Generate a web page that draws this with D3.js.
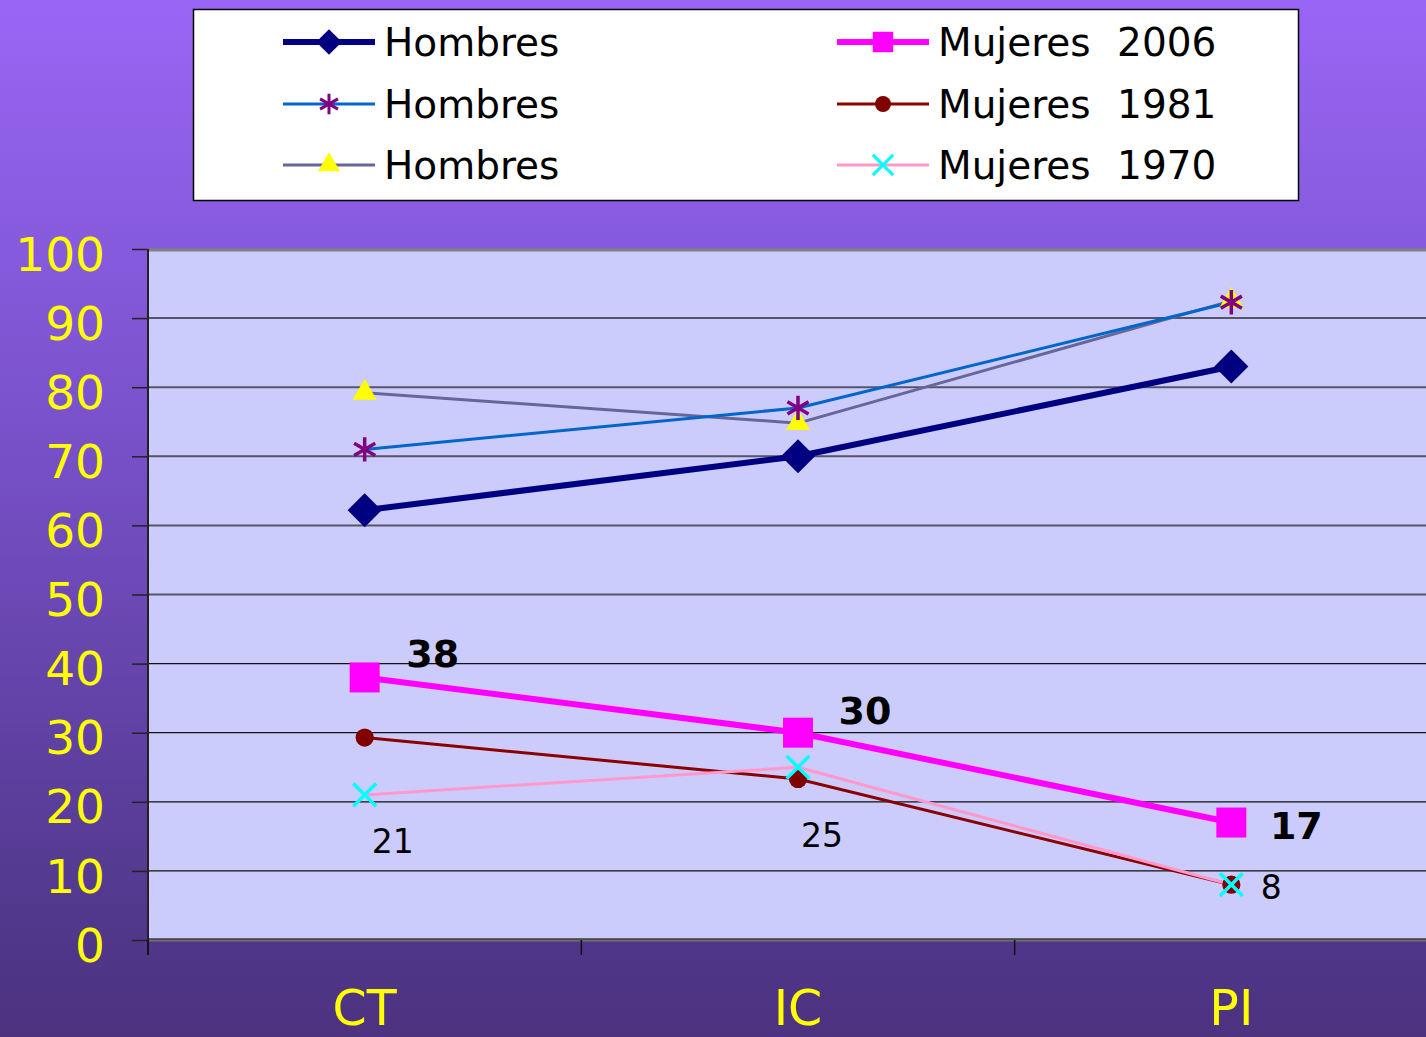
<!DOCTYPE html>
<html>
<head>
<meta charset="utf-8">
<script src="https://cdn.jsdelivr.net/npm/d3@7"></script>
<style>
  body{margin:0;padding:0;overflow:hidden;}
  svg{display:block;}
  text{font-family:"DejaVu Sans",Verdana,sans-serif;}
</style>
</head>
<body>
<svg id="chart" width="1426" height="1037"></svg>
<script>
// categories and values
const categories=["CT","IC","PI"];
const yTicks=[0,10,20,30,40,50,60,70,80,90,100];
const seriesNames=["Hombres","Hombres","Hombres","Mujeres 2006","Mujeres 1981","Mujeres 1970"];
const hombresA=[62.2,70,83];
const hombresB=[71,77,92.3];
const hombresC=[79.2,74.8,92.5];
const mujeres2006=[38,30,17];
const mujeres1981=[29.3,23.3,8];
const mujeres1970=[21,25,8];
const labels2006=["38","30","17"];
const labels1970=["21","25","8"];

const W=1426,H=1037;
const plotL=148,plotT=249,plotB=940,plotR=1448;

const svg=d3.select('#chart');

// background gradient
const defs=svg.append('defs');
const grad=defs.append('linearGradient').attr('id','bg').attr('x1',0).attr('y1',0).attr('x2',0).attr('y2',1);
grad.append('stop').attr('offset','0%').attr('stop-color','#9966f5');
grad.append('stop').attr('offset','40%').attr('stop-color','#7a52cc');
grad.append('stop').attr('offset','90%').attr('stop-color','#50378a');
grad.append('stop').attr('offset','100%').attr('stop-color','#4c327f');
svg.append('rect').attr('width',W).attr('height',H).attr('fill','url(#bg)');

const x=d3.scaleBand().domain(categories).range([plotL,plotR]);
const cx=c=>x(c)+x.bandwidth()/2;
const y=d3.scaleLinear().domain([0,100]).range([plotB,plotT]);

// plot area
svg.append('rect').attr('x',plotL).attr('y',plotT).attr('width',plotR-plotL).attr('height',plotB-plotT)
  .attr('fill','#ccccfc');

// gridlines
svg.append('g').selectAll('line').data(yTicks.filter(t=>t>0&&t<100)).join('line')
  .attr('x1',plotL).attr('x2',W).attr('y1',d=>y(d)).attr('y2',d=>y(d))
  .attr('stroke',d=>d>=50?'#55556a':'#111').attr('stroke-width',d=>d>=50?2:1.3);
svg.append('line').attr('x1',plotL).attr('x2',W).attr('y1',plotT+1).attr('y2',plotT+1)
  .attr('stroke','#808080').attr('stroke-width',3);
svg.append('line').attr('x1',plotL).attr('x2',W).attr('y1',plotB).attr('y2',plotB)
  .attr('stroke','#707070').attr('stroke-width',3);
svg.append('line').attr('x1',plotL).attr('x2',W).attr('y1',plotB-1).attr('y2',plotB-1)
  .attr('stroke','#222').attr('stroke-width',1);

// y axis
const yAxis=d3.axisLeft(y).tickValues(yTicks).tickSize(16).tickPadding(27);
const ya=svg.append('g').attr('transform',`translate(${plotL},0)`).call(yAxis);
ya.select('.domain').attr('stroke','#222').attr('stroke-width',2).attr('d',`M0,${plotT}V${plotB+15}`);
ya.selectAll('.tick line').attr('stroke','#222').attr('stroke-width',1.5);
ya.selectAll('.tick text').attr('fill','#ffff00').attr('font-size',47)
  .attr('font-family','"DejaVu Sans",Verdana,sans-serif').attr('dy','0.45em');

// x axis
const xAxis=d3.axisBottom(x).tickSize(0).tickPadding(55);
const xa=svg.append('g').attr('transform',`translate(0,${plotB})`).call(xAxis);
xa.select('.domain').remove();
xa.selectAll('.tick text').attr('fill','#ffff00').attr('font-size',49)
  .attr('font-family','"DejaVu Sans",Verdana,sans-serif').attr('dy','0.62em');
svg.append('g').selectAll('line').data(categories).join('line')
  .attr('x1',d=>x(d)).attr('x2',d=>x(d)).attr('y1',plotB).attr('y2',plotB+15)
  .attr('stroke','#111').attr('stroke-width',1.5);

// series definitions
const series=[
  {name:seriesNames[3],values:mujeres2006,line:'#ff00ff',width:6,sym:d3.symbolSquare,size:900,fill:'#ff00ff',stroke:null,lsize:420},
  {name:seriesNames[5],values:mujeres1970,line:'#ff99cc',width:3,sym:d3.symbolTimes,size:340,fill:'none',stroke:'#00ffff',lsize:270},
  {name:seriesNames[4],values:mujeres1981,line:'#8b0000',width:3,sym:d3.symbolCircle,size:260,fill:'#800000',stroke:null,lsize:200},
  {name:seriesNames[2],values:hombresC,line:'#666699',width:3,sym:d3.symbolTriangle,size:250,fill:'#ffff00',stroke:null,lsize:210},
  {name:seriesNames[1],values:hombresB,line:'#0066cc',width:3,sym:d3.symbolAsterisk,size:420,fill:'none',stroke:'#800080',lsize:300},
  {name:seriesNames[0],values:hombresA,line:'#000080',width:6,sym:d3.symbolDiamond2,size:740,fill:'#000080',stroke:null,lsize:420}
];

const line=d3.line().x((d,i)=>cx(categories[i])).y(d=>y(d));
const drawOrder=[series[3],series[4],series[5],series[2],series[1],series[0]];
drawOrder.forEach(s=>{
  svg.append('path').datum(s.values).attr('d',line).attr('fill','none')
    .attr('stroke',s.line).attr('stroke-width',s.width).attr('stroke-linejoin','round');
});
drawOrder.forEach(s=>{
  svg.append('g').selectAll('path').data(s.values).join('path')
    .attr('transform',(d,i)=>`translate(${cx(categories[i])},${y(d)})`)
    .attr('d',d3.symbol(s.sym,s.size))
    .attr('fill',s.fill).attr('stroke',s.stroke||'none').attr('stroke-width',s.stroke?3.5:0)
    .attr('stroke-linejoin','round');
});

// data labels
const boldOff=[[68,-10],[67,-9],[65,16]];
svg.append('g').selectAll('text').data(mujeres2006).join('text')
  .attr('x',(d,i)=>cx(categories[i])+boldOff[i][0]).attr('y',(d,i)=>y(d)+boldOff[i][1])
  .attr('text-anchor','middle').attr('font-size',38).attr('font-weight','bold').attr('fill','#000')
  .text((d,i)=>labels2006[i]);
const normOff=[[28,58],[24,80],[40,14]];
svg.append('g').selectAll('text').data(mujeres1970).join('text')
  .attr('x',(d,i)=>cx(categories[i])+normOff[i][0]).attr('y',(d,i)=>y(d)+normOff[i][1])
  .attr('text-anchor','middle').attr('font-size',33).attr('fill','#000')
  .text((d,i)=>labels1970[i]);

// legend
const lg=svg.append('g');
lg.append('rect').attr('x',193.5).attr('y',9.5).attr('width',1105).attr('height',191)
  .attr('fill','#fff').attr('stroke','#000').attr('stroke-width',1.5);
const legendItems=[series[5],series[4],series[3],series[0],series[2],series[1]];
const rowY=[42,104,165];
legendItems.forEach((s,k)=>{
  const col=k<3?0:1, row=k%3;
  const x0=col===0?283:837, yy=rowY[row];
  const g=lg.append('g');
  g.append('line').attr('x1',x0).attr('x2',x0+92).attr('y1',yy).attr('y2',yy)
    .attr('stroke',s.line).attr('stroke-width',s.width);
  g.append('path').attr('transform',`translate(${x0+46},${yy})`).attr('d',d3.symbol(s.sym,s.lsize))
    .attr('fill',s.fill).attr('stroke',s.stroke||'none').attr('stroke-width',s.stroke?3:0);
  g.append('text').attr('x',x0+101).attr('y',yy).attr('dy','0.36em')
    .attr('font-size',39).attr('fill','#000').attr('word-spacing',14).text(s.name);
});
</script>
</body>
</html>
